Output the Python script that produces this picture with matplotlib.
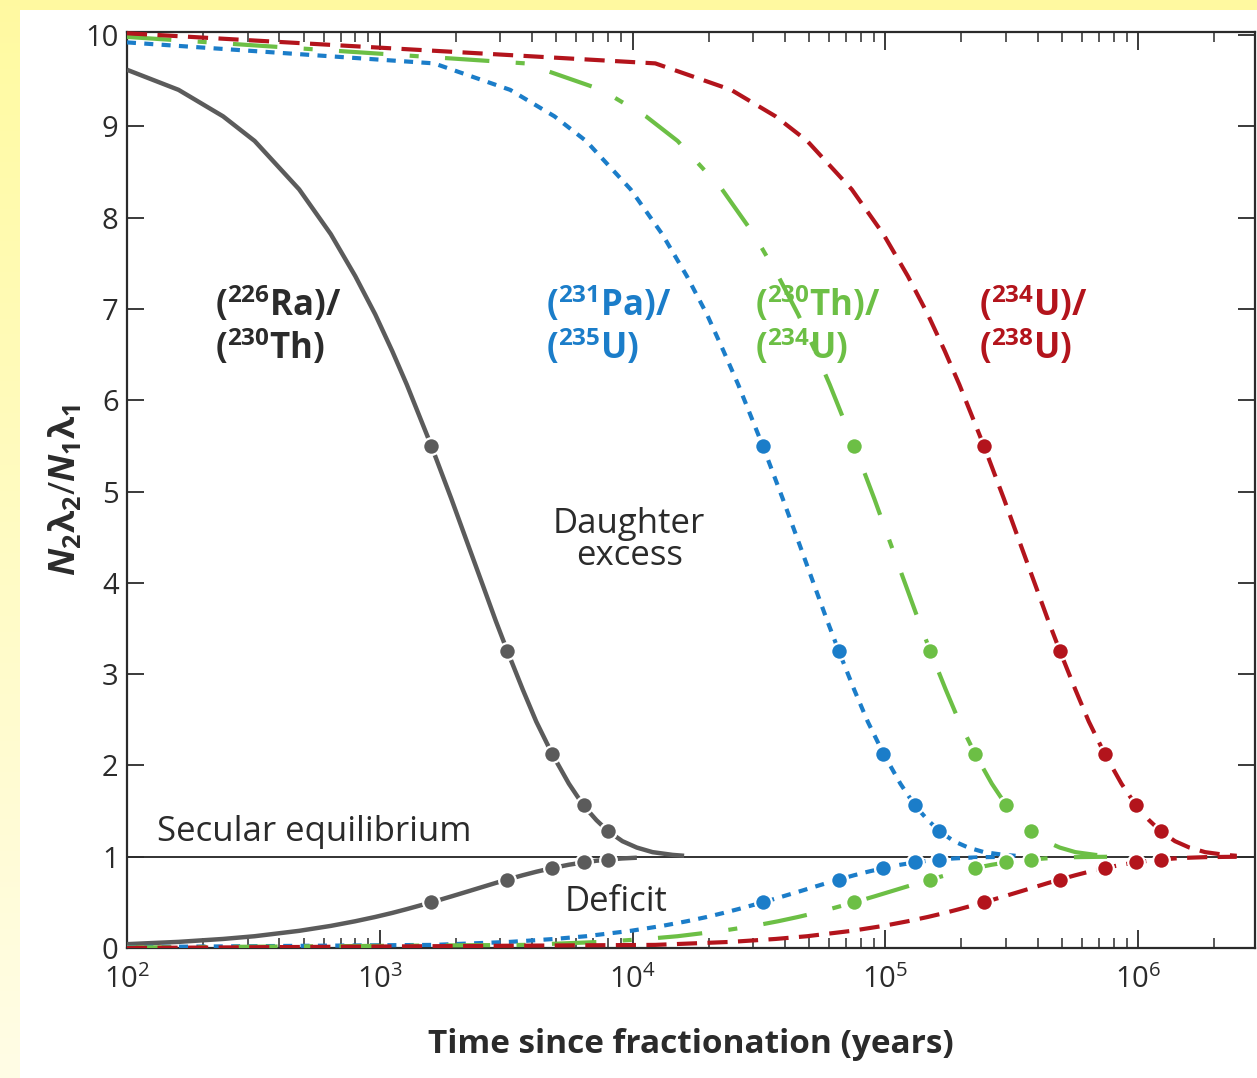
import matplotlib.pyplot as plt
import numpy as np

# --- data (time in years, ratio N2*l2/N1*l1) ---
# (226Ra)/(230Th)
ra_t = [100, 160, 240, 320, 480, 640, 800, 960, 1120, 1280, 1600, 1920, 2240, 2560,
        2880, 3200, 3680, 4160, 4800, 5600, 6400, 7200, 8000, 9120, 10400, 12000,
        14400, 16000]
ra_excess = [9.62, 9.40, 9.11, 8.84, 8.31, 7.82, 7.36, 6.94, 6.54, 6.17, 5.50, 4.92,
             4.41, 3.97, 3.58, 3.25, 2.83, 2.48, 2.13, 1.80, 1.56, 1.40, 1.28, 1.17,
             1.10, 1.05, 1.02, 1.01]
ra_deficit = [0.042, 0.067, 0.099, 0.129, 0.188, 0.242, 0.293, 0.340, 0.384, 0.426,
              0.50, 0.565, 0.621, 0.670, 0.713, 0.75, 0.797, 0.835, 0.875, 0.912,
              0.9375, 0.956, 0.969, 0.981, 0.989, 0.995, 0.998, 0.999]

# (231Pa)/(235U)
pa_t = [100, 1640, 3280, 4910, 6550, 9830, 13100, 16400, 19700, 22900, 26200, 32760,
        39300, 45900, 52400, 59000, 65520, 75300, 85200, 98280, 114700, 131040,
        147400, 163800, 186700, 212900, 245700, 294800, 327600]
pa_excess = [9.92, 9.69, 9.40, 9.11, 8.84, 8.31, 7.82, 7.36, 6.94, 6.54, 6.17, 5.50,
             4.92, 4.41, 3.97, 3.58, 3.25, 2.83, 2.48, 2.13, 1.80, 1.56, 1.40, 1.28,
             1.17, 1.10, 1.05, 1.02, 1.01]
pa_deficit = [0.01, 0.034, 0.067, 0.099, 0.129, 0.188, 0.242, 0.293, 0.340, 0.384,
              0.426, 0.50, 0.565, 0.621, 0.670, 0.713, 0.75, 0.797, 0.835, 0.875,
              0.912, 0.9375, 0.956, 0.969, 0.981, 0.989, 0.995, 0.998, 0.999]

# (230Th)/(234U)
th_t = [100, 3770, 7540, 11300, 15080, 22600, 30150, 37700, 45200, 52800, 60300,
        75380, 90500, 105500, 120600, 135700, 150760, 173400, 196000, 226140, 263800,
        301520, 339200, 376900, 429700, 490000, 565000, 678000, 753800]
th_excess = [9.98, 9.69, 9.40, 9.11, 8.84, 8.31, 7.82, 7.36, 6.94, 6.54, 6.17, 5.50,
             4.92, 4.41, 3.97, 3.58, 3.25, 2.83, 2.48, 2.13, 1.80, 1.56, 1.40, 1.28,
             1.17, 1.10, 1.05, 1.02, 1.01]
th_deficit = [0.005, 0.034, 0.067, 0.099, 0.129, 0.188, 0.242, 0.293, 0.340, 0.384,
              0.426, 0.50, 0.565, 0.621, 0.670, 0.713, 0.75, 0.797, 0.835, 0.875,
              0.912, 0.9375, 0.956, 0.969, 0.981, 0.989, 0.995, 0.998, 0.999]

# (234U)/(238U)
u_t = [100, 12300, 24550, 36800, 49100, 73650, 98200, 122750, 147300, 171850, 196400,
       245500, 294600, 343700, 392800, 441900, 491000, 564700, 638300, 736500, 859300,
       982000, 1104800, 1227500, 1399400, 1595800, 1841300, 2209500, 2455000]
u_excess = [10.02, 9.69, 9.40, 9.11, 8.84, 8.31, 7.82, 7.36, 6.94, 6.54, 6.17, 5.50,
            4.92, 4.41, 3.97, 3.58, 3.25, 2.83, 2.48, 2.13, 1.80, 1.56, 1.40, 1.28,
            1.17, 1.10, 1.05, 1.02, 1.01]
u_deficit = [0.0, 0.034, 0.067, 0.099, 0.129, 0.188, 0.242, 0.293, 0.340, 0.384,
             0.426, 0.50, 0.565, 0.621, 0.670, 0.713, 0.75, 0.797, 0.835, 0.875,
             0.912, 0.9375, 0.956, 0.969, 0.981, 0.989, 0.995, 0.998, 0.999]

# markers at 1..5 half-lives
ra_mk_t = [1600, 3200, 4800, 6400, 8000]
pa_mk_t = [32760, 65520, 98280, 131040, 163800]
th_mk_t = [75380, 150760, 226140, 301520, 376900]
u_mk_t = [245500, 491000, 736500, 982000, 1227500]
mk_excess = [5.5, 3.25, 2.125, 1.5625, 1.281]
mk_deficit = [0.5, 0.75, 0.875, 0.9375, 0.969]

gray = '#5b5b5b'
blue = '#1b7dc9'
green = '#6cbf45'
red = '#b3141c'
ink = '#2b2b2b'

plt.rcParams['font.family'] = ['Open Sans', 'DejaVu Sans']
plt.rcParams['mathtext.fontset'] = 'custom'
plt.rcParams['mathtext.rm'] = 'Open Sans'
plt.rcParams['mathtext.it'] = 'Open Sans:italic'
plt.rcParams['mathtext.bf'] = 'Open Sans:bold'
plt.rcParams['mathtext.bfit'] = 'Open Sans:italic:bold'
plt.rcParams['lines.scale_dashes'] = False

fig = plt.figure(figsize=(12.57, 10.78), dpi=100)

# yellowish frame of the slide
bg = fig.add_axes([0, 0, 1, 1], zorder=-10)
H, W = 1078, 1257
img = np.ones((H, W, 3))
yellow = np.array([1.0, 0.98, 0.63])
pale = np.array([1.0, 0.99, 0.90])
img[:10, :, :] = yellow
fade = np.linspace(0, 1, H)[:, None]
img[:, :20, :] = (yellow * (1 - fade) + pale * fade)[:, None, :].repeat(20, axis=1)
bg.imshow(img, aspect='auto', extent=[0, 1, 0, 1])
bg.axis('off')

ax = fig.add_axes([0.101, 0.1206, 0.8974, 0.8494])
ax.set_xscale('log')
ax.set_xlim(100, 2.9e6)
ax.set_ylim(0, 10.03)

ax.axhline(1, color='#222222', lw=1.3, zorder=1)

lw = 3.0
ax.plot(ra_t, ra_excess, color=gray, lw=3.2, solid_capstyle='butt', zorder=3)
ax.plot(ra_t[:25], ra_deficit[:25], color=gray, lw=3.2, solid_capstyle='butt', zorder=3)
ax.plot(pa_t, pa_excess, color=blue, lw=lw, dashes=(6.5, 6.0), zorder=3)
ax.plot(pa_t, pa_deficit, color=blue, lw=lw, dashes=(6.5, 6.0), zorder=3)
ax.plot(th_t, th_excess, color=green, lw=lw, dashes=(32, 19, 6.5, 19), zorder=3)
ax.plot(th_t, th_deficit, color=green, lw=lw, dashes=(32, 19, 6.5, 19), zorder=3)
ax.plot(u_t, u_excess, color=red, lw=lw, dashes=(14.5, 7.5), zorder=3, clip_on=False)
ax.plot(u_t, u_deficit, color=red, lw=lw, dashes=(14.5, 7.5), zorder=3)

for mt, c in [(ra_mk_t, gray), (pa_mk_t, blue), (th_mk_t, green), (u_mk_t, red)]:
    ax.plot(mt, mk_excess, 'o', color=c, ms=12, mec='white', mew=1.6, zorder=4)
    ax.plot(mt, mk_deficit, 'o', color=c, ms=12, mec='white', mew=1.6, zorder=4)

# curve labels
fs = 25
y1, y2 = 7.05, 6.58
ax.text(222, y1, r'($^{\mathbf{226}}$Ra)/', color=ink, fontsize=fs, fontweight='bold', va='center')
ax.text(222, y2, r'($^{\mathbf{230}}$Th)', color=ink, fontsize=fs, fontweight='bold', va='center')
ax.text(4550, y1, r'($^{\mathbf{231}}$Pa)/', color=blue, fontsize=fs, fontweight='bold', va='center')
ax.text(4550, y2, r'($^{\mathbf{235}}$U)', color=blue, fontsize=fs, fontweight='bold', va='center')
ax.text(30500, y1, r'($^{\mathbf{230}}$Th)/', color=green, fontsize=fs, fontweight='bold', va='center')
ax.text(30500, y2, r'($^{\mathbf{234}}$U)', color=green, fontsize=fs, fontweight='bold', va='center')
ax.text(234000, y1, r'($^{\mathbf{234}}$U)/', color=red, fontsize=fs, fontweight='bold', va='center')
ax.text(234000, y2, r'($^{\mathbf{238}}$U)', color=red, fontsize=fs, fontweight='bold', va='center')

ax.text(9700, 4.47, 'Daughter\nexcess', color=ink, fontsize=25, ha='center', va='center',
        linespacing=0.95)
ax.text(132, 1.27, 'Secular equilibrium', color=ink, fontsize=25, va='center')
ax.text(8600, 0.5, 'Deficit', color=ink, fontsize=25, ha='center', va='center')

ax.set_yticks(range(0, 11))
ax.tick_params(axis='both', which='both', direction='in', top=True, right=True,
               colors=ink, labelsize=21)
ax.tick_params(axis='x', which='major', length=13, width=1.3, pad=12)
ax.tick_params(axis='x', which='minor', length=7, width=1.1)
ax.tick_params(axis='y', which='major', length=12, width=1.3, pad=6)
for s in ax.spines.values():
    s.set_color(ink)
    s.set_linewidth(1.6)

ax.set_xlabel('Time since fractionation (years)', fontsize=24, fontweight='bold',
              color=ink, labelpad=24)
ax.set_ylabel(r'$\mathbfit{N}_\mathbf{2}\mathbf{\lambda}_\mathbf{2}/\mathbfit{N}_\mathbf{1}\mathbf{\lambda}_\mathbf{1}$',
              fontsize=26, color=ink, labelpad=1)

plt.savefig('out.png', dpi=100)
